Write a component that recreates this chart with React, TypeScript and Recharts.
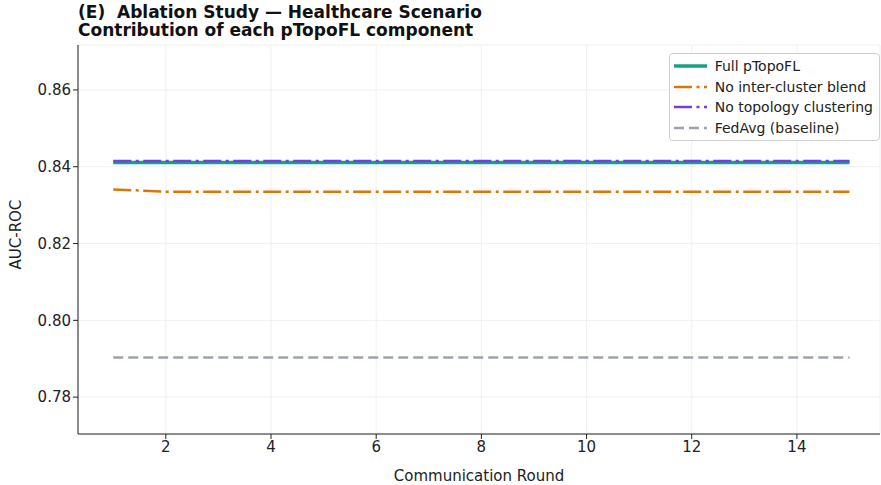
import { LineChart, Line, XAxis, YAxis, CartesianGrid } from 'recharts';

const rounds = [1, 2, 3, 4, 5, 6, 7, 8, 9, 10, 11, 12, 13, 14, 15];
const fullPTopoFL = [0.8411, 0.8411, 0.8411, 0.8411, 0.8411, 0.8411, 0.8411, 0.8411, 0.8411, 0.8411, 0.8411, 0.8411, 0.8411, 0.8411, 0.8411];
const noInterCluster = [0.8341, 0.8335, 0.8335, 0.8335, 0.8335, 0.8335, 0.8335, 0.8335, 0.8335, 0.8335, 0.8335, 0.8335, 0.8335, 0.8335, 0.8335];
const noTopology = [0.8415, 0.8415, 0.8415, 0.8415, 0.8415, 0.8415, 0.8415, 0.8415, 0.8415, 0.8415, 0.8415, 0.8415, 0.8415, 0.8415, 0.8415];
const fedAvg = [0.7903, 0.7903, 0.7903, 0.7903, 0.7903, 0.7903, 0.7903, 0.7903, 0.7903, 0.7903, 0.7903, 0.7903, 0.7903, 0.7903, 0.7903];

const xTicks = [2, 4, 6, 8, 10, 12, 14];
const yTicks = [0.78, 0.8, 0.82, 0.84, 0.86];

const data = rounds.map((r, i) => ({
  round: r,
  full: fullPTopoFL[i],
  noBlend: noInterCluster[i],
  noTopo: noTopology[i],
  fedavg: fedAvg[i],
}));

const legendItems = [
  { name: 'Full pTopoFL', color: '#17a085', dash: undefined, width: 3.5 },
  { name: 'No inter-cluster blend', color: '#dc7608', dash: '18 4.5 3 4.5', width: 2.5 },
  { name: 'No topology clustering', color: '#7040e0', dash: '18 4.5 3 4.5', width: 2.5 },
  { name: 'FedAvg (baseline)', color: '#9ca3af', dash: '10 5', width: 2.5 },
];

const font = '"DejaVu Sans", sans-serif';

const LegendBox = () => (
  <div
    style={{
      position: 'absolute',
      right: 1,
      top: 53,
      boxSizing: 'border-box',
      border: '1px solid #d0d0d0',
      borderRadius: 4,
      background: 'rgba(255,255,255,0.85)',
      padding: '2px 6px 2px 4px',
      fontFamily: font,
      fontSize: 14,
      color: '#222',
      whiteSpace: 'nowrap',
    }}
  >
    {legendItems.map((it) => (
      <div key={it.name} style={{ display: 'flex', alignItems: 'center', height: 20.5 }}>
        <svg width={33} height={10} style={{ marginRight: 8 }}>
          <line x1={0} y1={5} x2={33} y2={5} stroke={it.color} strokeWidth={it.width} strokeDasharray={it.dash} />
        </svg>
        <span>{it.name}</span>
      </div>
    ))}
  </div>
);

export default function App() {
  return (
    <div style={{ position: 'absolute', left: 0, top: 0, width: 881, height: 485, background: '#fff', fontFamily: font }}>
      <div style={{ position: 'absolute', left: 78, top: 3, fontSize: 17, fontWeight: 'bold', lineHeight: '18px', color: '#111', whiteSpace: 'nowrap' }}>
        <div>(E)&nbsp; Ablation Study — Healthcare Scenario</div>
        <div>Contribution of each pTopoFL component</div>
      </div>
      <LineChart width={881} height={485} data={data} margin={{ top: 45, right: 1, bottom: 0, left: 0 }}>
        <CartesianGrid stroke="#ececec" strokeWidth={0.8} />
        <XAxis
          dataKey="round"
          type="number"
          domain={[0.33, 15.58]}
          ticks={xTicks}
          allowDataOverflow
          height={51}
          stroke="#222"
          tick={{ fill: '#222', fontSize: 15, fontFamily: font }}
          tickSize={5}
          label={{ value: 'Communication Round', position: 'insideBottom', offset: 4, fill: '#222', fontSize: 15, fontFamily: font }}
        />
        <YAxis
          type="number"
          domain={[0.7704, 0.8717]}
          ticks={yTicks}
          allowDataOverflow
          width={78}
          stroke="#222"
          tickFormatter={(v: number) => v.toFixed(2)}
          tick={{ fill: '#222', fontSize: 15, fontFamily: font }}
          tickSize={5}
          label={{ value: 'AUC-ROC', angle: -90, position: 'insideLeft', offset: 16, dy: 30, fill: '#222', fontSize: 15, fontFamily: font }}
        />
        <Line dataKey="full" stroke="#17a085" strokeWidth={3.5} dot={false} isAnimationActive={false} />
        <Line dataKey="noBlend" stroke="#dc7608" strokeWidth={2.5} strokeDasharray="18 4.5 3 4.5" dot={false} isAnimationActive={false} />
        <Line dataKey="noTopo" stroke="#7040e0" strokeWidth={2.5} strokeDasharray="18 4.5 3 4.5" dot={false} isAnimationActive={false} />
        <Line dataKey="fedavg" stroke="#9ca3af" strokeWidth={2.5} strokeDasharray="10 5" dot={false} isAnimationActive={false} />
      </LineChart>
      <LegendBox />
    </div>
  );
}
